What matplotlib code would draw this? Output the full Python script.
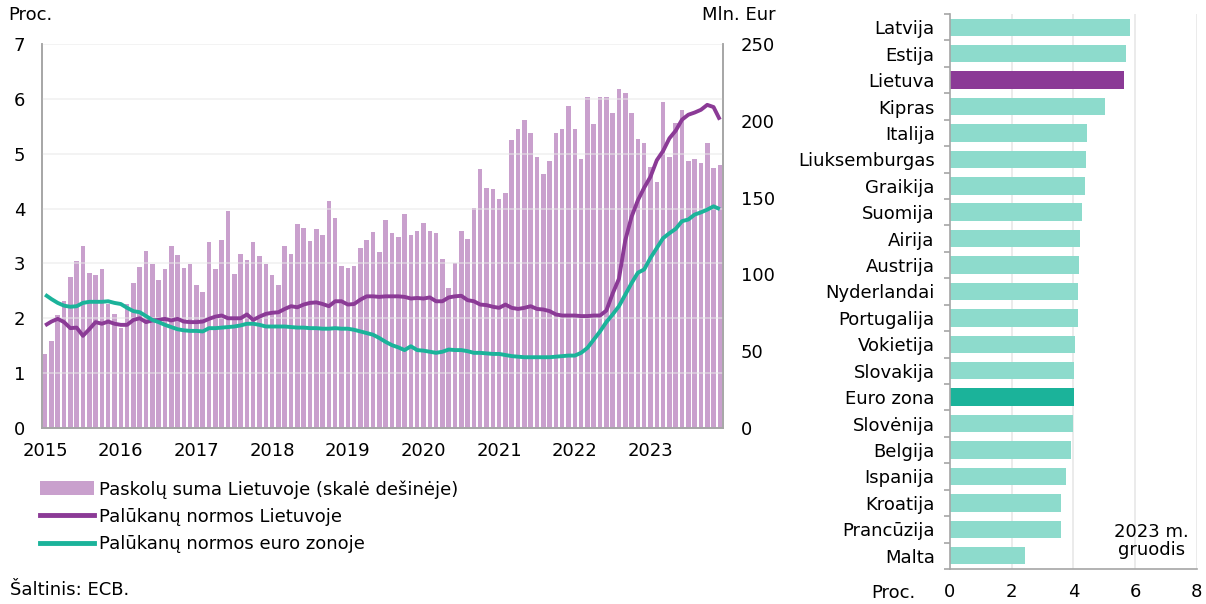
import numpy as np
import matplotlib
matplotlib.use("Agg")
import matplotlib.pyplot as plt
from matplotlib.patches import Patch
from matplotlib.lines import Line2D

plt.rcParams["font.family"] = ["DejaVu Sans"]
plt.rcParams["font.size"] = 13

# ======================
# data (monthly, 2015-01 .. 2023-12)
# ======================
years = ["2015", "2016", "2017", "2018", "2019", "2020", "2021", "2022", "2023"]

loans_lt = [
    48.4, 56.4, 73.3, 82.7, 98.3, 108.5, 118.5, 100.7, 99.6, 103.5, 80.5, 74.4,
    65.3, 80.5, 94.6, 105.0, 115.4, 106.8, 96.1, 103.3, 118.5, 112.4, 104.4, 106.5,
    93.3, 88.3, 121.3, 103.3, 122.2, 141.5, 100.5, 113.5, 109.4, 121.3, 112.2, 106.8,
    99.4, 93.3, 118.5, 113.5, 132.6, 130.4, 121.5, 129.3, 125.4, 147.6, 136.5, 105.2,
    104.2, 105.2, 117.2, 122.2, 127.4, 114.4, 135.2, 127.2, 124.3, 139.3, 125.4, 128.2,
    133.2, 128.2, 127.2, 110.2, 91.4, 107.2, 128.2, 123.3, 143.4, 168.4, 156.5, 155.4,
    149.3, 153.2, 187.3, 194.4, 200.3, 192.3, 176.4, 165.1, 173.6, 192.3, 194.4, 209.6,
    194.4, 175.3, 215.5, 197.7, 215.5, 215.5, 205.0, 220.5, 218.3, 205.3, 188.4, 185.3,
    170.0, 160.2, 212.4, 176.4, 198.6, 207.2, 173.6, 175.3, 172.5, 185.5, 169.3, 171.4,
]

rate_lt = [
    1.87, 1.94, 1.99, 1.93, 1.82, 1.83, 1.68, 1.80, 1.93, 1.90, 1.94, 1.90,
    1.88, 1.88, 1.97, 2.00, 1.93, 1.96, 1.97, 1.99, 1.96, 1.99, 1.94, 1.93,
    1.93, 1.94, 1.99, 2.03, 2.05, 2.00, 2.00, 2.00, 2.07, 1.97, 2.03, 2.08,
    2.10, 2.11, 2.17, 2.22, 2.20, 2.25, 2.28, 2.29, 2.26, 2.22, 2.31, 2.31,
    2.25, 2.26, 2.34, 2.40, 2.40, 2.39, 2.40, 2.40, 2.40, 2.39, 2.36, 2.37,
    2.36, 2.38, 2.31, 2.31, 2.38, 2.40, 2.41, 2.33, 2.31, 2.25, 2.24, 2.21,
    2.19, 2.25, 2.19, 2.17, 2.19, 2.22, 2.17, 2.16, 2.13, 2.07, 2.05, 2.05,
    2.05, 2.04, 2.04, 2.05, 2.05, 2.14, 2.45, 2.72, 3.42, 3.85, 4.15, 4.38,
    4.58, 4.88, 5.05, 5.28, 5.42, 5.62, 5.71, 5.75, 5.80, 5.89, 5.85, 5.62,
]

rate_ez = [
    2.43, 2.35, 2.28, 2.23, 2.21, 2.22, 2.28, 2.30, 2.30, 2.30, 2.31, 2.28,
    2.26, 2.19, 2.13, 2.11, 2.04, 1.97, 1.93, 1.88, 1.84, 1.80, 1.78, 1.77,
    1.77, 1.76, 1.82, 1.82, 1.83, 1.84, 1.85, 1.87, 1.90, 1.90, 1.88, 1.85,
    1.85, 1.85, 1.85, 1.84, 1.83, 1.83, 1.82, 1.82, 1.81, 1.81, 1.82, 1.81,
    1.81, 1.79, 1.76, 1.73, 1.70, 1.64, 1.57, 1.51, 1.47, 1.42, 1.49, 1.42,
    1.41, 1.39, 1.37, 1.39, 1.43, 1.42, 1.42, 1.40, 1.37, 1.37, 1.36, 1.35,
    1.35, 1.33, 1.31, 1.30, 1.29, 1.29, 1.29, 1.29, 1.29, 1.30, 1.31, 1.32,
    1.32, 1.37, 1.46, 1.61, 1.76, 1.93, 2.07, 2.22, 2.43, 2.64, 2.83, 2.89,
    3.10, 3.28, 3.46, 3.55, 3.63, 3.77, 3.80, 3.89, 3.93, 3.98, 4.04, 3.99,
]

countries = ["Latvija", "Estija", "Lietuva", "Kipras", "Italija", "Liuksemburgas",
             "Graikija", "Suomija", "Airija", "Austrija", "Nyderlandai", "Portugalija",
             "Vokietija", "Slovakija", "Euro zona", "Slovėnija", "Belgija", "Ispanija",
             "Kroatija", "Prancūzija", "Malta"]
rates_dec23 = [5.84, 5.71, 5.64, 5.03, 4.43, 4.42, 4.38, 4.29, 4.20, 4.17, 4.14, 4.14,
               4.07, 4.02, 4.02, 3.98, 3.91, 3.76, 3.61, 3.61, 2.43]

# ======================
# colours
# ======================
c_bar = "#C9A0CD"
c_lt = "#8B3A96"
c_ez = "#1BB39A"
c_light = "#8DDBCC"
c_spine = "#A6A6A6"
c_grid = "#E8E8E8"

fig = plt.figure(figsize=(12.06, 6.04), dpi=100)

# ======================
# left: bars (right scale) + lines (left scale)
# ======================
ax_bar = fig.add_axes([0.0348, 0.2914, 0.5647, 0.6358])
ax = ax_bar.twinx()

x = np.arange(len(loans_lt))
ax_bar.bar(x, loans_lt, width=0.72, color=c_bar, zorder=2)
ax_bar.set_ylim(0, 250)
ax_bar.set_xlim(-0.5, len(x) - 0.5)
ax_bar.yaxis.tick_right()
ax_bar.set_yticks([0, 50, 100, 150, 200, 250])
ax_bar.tick_params(axis="y", length=0, pad=13)

ax.yaxis.tick_left()
ax.set_ylim(0, 7)
ax.set_yticks(range(0, 8))
ax.tick_params(axis="y", length=0, pad=12)
for v in range(1, 8):
    ax.axhline(v, color=c_grid, lw=1.2, alpha=0.6, zorder=1)
ax.plot(x, rate_lt, color=c_lt, lw=2.8, zorder=4, solid_capstyle="butt")
ax.plot(x, rate_ez, color=c_ez, lw=2.8, zorder=4, solid_capstyle="butt")

ax_bar.set_xticks(np.arange(0, 108, 12))
ax_bar.set_xticklabels(years)
ax_bar.tick_params(axis="x", length=0, pad=10)

for a in (ax_bar, ax):
    a.spines["top"].set_visible(False)
    for s in ("left", "right", "bottom"):
        a.spines[s].set_color(c_spine)
        a.spines[s].set_linewidth(1.2)

fig.text(0.007, 0.975, "Proc.", va="center", ha="left")
fig.text(0.582, 0.975, "Mln. Eur", va="center", ha="left")

handles = [
    Patch(facecolor=c_bar, edgecolor="none"),
    Line2D([0], [0], color=c_lt, lw=3.5),
    Line2D([0], [0], color=c_ez, lw=3.5),
]
labels = ["Paskolų suma Lietuvoje (skalė dešinėje)",
          "Palūkanų normos Lietuvoje",
          "Palūkanų normos euro zonoje"]
fig.legend(handles, labels, loc="upper left", bbox_to_anchor=(0.033, 0.205),
           frameon=False, borderaxespad=0, borderpad=0, handlelength=3.0,
           handleheight=0.8, handletextpad=0.3, labelspacing=0.52)

fig.text(0.008, 0.023, "Šaltinis: ECB.", va="center", ha="left")

# ======================
# right: horizontal bars by country
# ======================
axr = fig.add_axes([0.7877, 0.058, 0.2046, 0.9188])
pos = np.arange(len(countries))
colors = [c_lt if c == "Lietuva" else (c_ez if c == "Euro zona" else c_light) for c in countries]
axr.barh(pos, rates_dec23, height=0.66, color=colors, zorder=2)
axr.set_ylim(len(countries) - 0.5, -0.5)
axr.set_xlim(0, 8)
axr.set_xticks([0, 2, 4, 6, 8])
axr.set_yticks(pos)
axr.set_yticklabels(countries)
axr.set_yticks(np.arange(-0.5, len(countries)), minor=True)
axr.tick_params(axis="y", which="major", length=0, pad=11)
axr.tick_params(axis="y", which="minor", length=4, width=1.2, color=c_spine)
axr.tick_params(axis="x", length=0, pad=10)
for v in [2, 4, 6, 8]:
    axr.axvline(v, color=c_grid, lw=1.2, zorder=1)
axr.spines["top"].set_visible(False)
axr.spines["right"].set_visible(False)
for s in ("left", "bottom"):
    axr.spines[s].set_color(c_spine)
    axr.spines[s].set_linewidth(1.2)
axr.text(0.815, 0.0495, "2023 m.\ngruodis", transform=axr.transAxes,
         ha="center", va="center", multialignment="center", linespacing=1.0)
fig.text(0.741, 0.018, "Proc.", va="center", ha="center")

plt.savefig("out.png", dpi=100)
